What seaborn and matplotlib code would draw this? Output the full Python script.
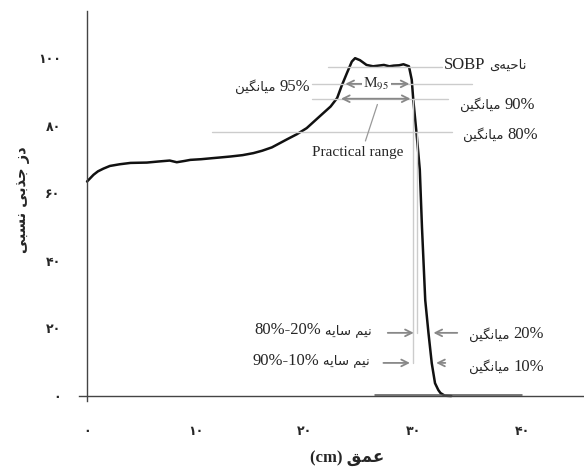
import matplotlib
matplotlib.use('Agg')
import matplotlib.pyplot as plt
import seaborn as sns

# depth-dose curve
depth = [0, 0.3, 0.6, 1.0, 1.5, 2.1, 3.0, 4.0, 5.5, 6.5, 7.6, 8.25, 9.0, 9.5, 10.5,
         11.5, 12.2, 13.2, 14.3, 15.3, 16.1, 17.0, 18.4, 19.3, 20.2, 21.4, 22.4,
         23.0, 23.4, 23.9, 24.35, 24.65, 25.1, 25.7, 26.3, 26.8, 27.3, 27.8, 28.2,
         28.7, 29.1, 29.6, 29.86, 30.0, 30.3, 30.6, 30.8, 31.1, 31.4, 31.7, 32.0,
         32.3, 32.5, 32.9, 33.5]
dose = [63.5, 64.5, 65.5, 66.5, 67.3, 68.1, 68.6, 69.0, 69.1, 69.4, 69.7, 69.2,
        69.6, 69.9, 70.1, 70.4, 70.6, 70.9, 71.3, 71.9, 72.6, 73.6, 76.0, 77.5,
        79.3, 82.8, 85.7, 88.2, 91.7, 95.6, 99.0, 100.0, 99.4, 98.0, 97.6, 97.8,
        98.0, 97.6, 97.8, 97.9, 98.2, 97.6, 93.6, 87.7, 77.8, 67.0, 50.0, 28.4,
        18.6, 9.7, 3.8, 1.8, 0.9, 0.1, 0.0]

x_ticks = [0, 10, 20, 30, 40]
y_ticks = [0, 20, 40, 60, 80, 100]
fa_digits = str.maketrans('0123456789', '۰۱۲۳۴۵۶۷۸۹')

# minimal persian shaping (matplotlib has no complex text layout)
FORMS = {
    'ا': ('\uFE8D', '\uFE8E', None, None),
    'ب': ('\uFE8F', '\uFE90', '\uFE91', '\uFE92'),
    'ج': ('\uFE9D', '\uFE9E', '\uFE9F', '\uFEA0'),
    'ح': ('\uFEA1', '\uFEA2', '\uFEA3', '\uFEA4'),
    'د': ('\uFEA9', '\uFEAA', None, None),
    'ذ': ('\uFEAB', '\uFEAC', None, None),
    'ز': ('\uFEAF', '\uFEB0', None, None),
    'س': ('\uFEB1', '\uFEB2', '\uFEB3', '\uFEB4'),
    'ع': ('\uFEC9', '\uFECA', '\uFECB', '\uFECC'),
    'ق': ('\uFED5', '\uFED6', '\uFED7', '\uFED8'),
    'م': ('\uFEE1', '\uFEE2', '\uFEE3', '\uFEE4'),
    'ن': ('\uFEE5', '\uFEE6', '\uFEE7', '\uFEE8'),
    'ه': ('\uFEE9', '\uFEEA', '\uFEEB', '\uFEEC'),
    'ی': ('\uFBFC', '\uFBFD', '\uFBFE', '\uFBFF'),
    'گ': ('\uFB92', '\uFB93', '\uFB94', '\uFB95'),
}


def fa(s):
    out = []
    for i, c in enumerate(s):
        if c == '\u200c':
            continue
        if c not in FORMS:
            out.append(c)
            continue
        prev = s[i - 1] if i > 0 else ''
        nxt = s[i + 1] if i + 1 < len(s) else ''
        jp = prev in FORMS and FORMS[prev][2] is not None
        jn = nxt in FORMS and FORMS[c][2] is not None
        iso, fin, ini, med = FORMS[c]
        out.append(med if jp and jn else fin if jp else ini if jn else iso)
    return ''.join(out)[::-1]


sns.set_style('white')
plt.rcParams['font.family'] = ['Liberation Serif', 'DejaVu Sans']
plt.rcParams['mathtext.fontset'] = 'stix'

fig = plt.figure(figsize=(5.84, 4.73), dpi=100)
ax = fig.add_axes([0.136, 0.152, 0.864, 0.825])

sns.lineplot(x=depth, y=dose, ax=ax, color='#111111', lw=1.8)
ax.plot([26.5, 40], [0.3, 0.3], color='#555555', lw=1.1)

ax.set_xlim(-0.7, 45.7)
ax.set_ylim(-1.5, 114)
for s in ['top', 'right']:
    ax.spines[s].set_visible(False)
for s in ['left', 'bottom']:
    ax.spines[s].set_position(('data', 0))
    ax.spines[s].set_color('#444444')
    ax.spines[s].set_linewidth(1.0)

ax.set_xticks(x_ticks)
ax.set_xticklabels([str(v).translate(fa_digits) for v in x_ticks])
ax.set_xticks(range(0, 46, 2), minor=True)
ax.set_yticks(y_ticks)
ax.set_yticklabels([str(v).translate(fa_digits) for v in y_ticks])
ax.set_yticks(range(0, 115, 5), minor=True)
ax.tick_params(which='both', direction='out', color='#444444', labelsize=9)
ax.tick_params(which='major', length=6)
ax.tick_params(which='minor', length=4)
ax.tick_params(axis='x', pad=15)
ax.tick_params(axis='y', pad=13)
for lab in ax.get_xticklabels() + ax.get_yticklabels():
    lab.set_family('DejaVu Sans')
    lab.set_fontweight('bold')

# guide lines
gl = dict(color='#cccccc', lw=1.0)
ax.plot([22.2, 32.6], [97.5, 97.5], **gl)
ax.plot([20.7, 35.4], [92.4, 92.4], **gl)
ax.plot([20.7, 33.2], [88, 88], **gl)
ax.plot([11.5, 33.6], [78.2, 78.2], **gl)
ax.plot([30.0, 30.0], [9.8, 88], **gl)
ax.plot([30.35, 30.35], [18.7, 78.2], **gl)

ap = dict(arrowstyle='<->', color='#888888', lw=1.3, mutation_scale=12)
ax.annotate('', xy=(23.5, 92.4), xytext=(29.9, 92.4), arrowprops=ap)
ax.annotate('', xy=(23.1, 88), xytext=(30.0, 88), arrowprops=ap)
ax.text(26.6, 92.4, 'M$_{95}$', ha='center', va='center', fontsize=11,
        bbox=dict(facecolor='white', edgecolor='none', pad=1))
ax.plot([26.7, 25.6], [86.3, 75.5], color='#999999', lw=0.9)
ax.text(24.9, 72.0, 'Practical range', ha='center', va='center', fontsize=11)

ar = dict(arrowstyle='->', color='#888888', lw=1.3, mutation_scale=12)
ax.annotate('', xy=(30.3, 18.7), xytext=(27.4, 18.7), arrowprops=ar)
ax.annotate('', xy=(31.6, 18.7), xytext=(34.3, 18.7), arrowprops=ar)
ax.annotate('', xy=(29.95, 9.8), xytext=(27.0, 9.8), arrowprops=ar)
ax.annotate('', xy=(31.85, 9.8), xytext=(33.2, 9.8), arrowprops=ar)


def label(x, y, parts, ha):
    # parts in visual order, left to right: (text, is_persian)
    style = lambda p: dict(fontsize=9.5, family='DejaVu Sans') if p else \
        dict(fontsize=12, family='Liberation Serif')
    seq = parts if ha == 'left' else parts[::-1]
    s, p = seq[0]
    prev = ax.text(x, y, s, ha=ha, va='center', **style(p))
    for s, p in seq[1:]:
        anchor = (1, 0.5) if ha == 'left' else (0, 0.5)
        off = (3, 0) if ha == 'left' else (-3, 0)
        prev = ax.annotate(s, xy=anchor, xycoords=prev, xytext=off,
                           textcoords='offset points', ha=ha, va='center',
                           **style(p))


mean = fa('میانگین')
shade = fa('نیم سایه')
label(32.8, 98.0, [('SOBP', False), (fa('ناحیه\u200cی'), True)], 'left')
label(20.5, 91.6, [(mean, True), ('95%', False)], 'right')
label(41.2, 86.2, [(mean, True), ('90%', False)], 'right')
label(41.5, 77.3, [(mean, True), ('80%', False)], 'right')
label(26.2, 19.5, [('80%-20%', False), (shade, True)], 'right')
label(26.0, 10.5, [('90%-10%', False), (shade, True)], 'right')
label(35.1, 18.3, [(mean, True), ('20%', False)], 'left')
label(35.1, 8.6, [(mean, True), ('10%', False)], 'left')

fig.text(23 / 584, 1 - 200 / 473, fa('دز جذبی نسبی'), rotation=90,
         ha='center', va='center', fontsize=10.5, fontweight='bold',
         family='DejaVu Sans')
fig.text(347 / 584, 1 - 458 / 473, '(cm) ' + fa('عمق'), ha='center',
         va='center', fontsize=12, fontweight='bold')

fig.savefig('out.png', dpi=100)
